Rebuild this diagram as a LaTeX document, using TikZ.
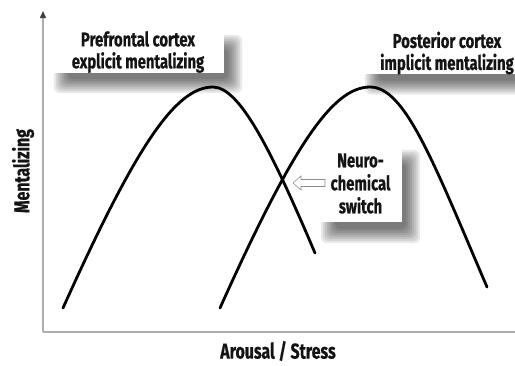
\documentclass[tikz,border=0pt]{standalone}
\usepackage{fontspec}
\setmainfont{Fira Sans}[FakeStretch=0.74, BoldFeatures={FakeBold=0.6}]
\usetikzlibrary{arrows.meta,backgrounds}
\begin{document}
\begin{tikzpicture}[x=1pt,y=-1pt,
  axisline/.style={draw=black!32, line width=1.4pt},
  curve/.style={line width=2.8pt, line cap=round},
  labelbox/.style={fill=white, align=center, inner sep=0pt,
    font=\bfseries\fontsize{20}{22}\selectfont, text=black!92},
  axislabel/.style={font=\bfseries\fontsize{21.5}{22}\selectfont, text=black!92, inner sep=1pt},
  hollowarrow/.style={draw=black!45, fill=white, line width=0.6pt, line join=miter},
  softshadow/.style={fill=black, opacity=0.085},
]
\useasboundingbox (0,0) rectangle (515,365);
\clip (0,0) rectangle (515,365);

% axes
\coordinate (origin) at (43,332);
\coordinate (ytop) at (43,11);
\coordinate (xend) at (516,332);
\draw[axisline] (origin) -- (xend);
\draw[axisline, -{Triangle[length=7pt,width=6pt,color=black!75]}] (origin) -- (ytop);

% explicit (prefrontal) curve
\coordinate (a0) at (63,308);
\coordinate (a1) at (213,87);
\coordinate (a2) at (315,253);
\draw[curve] (a0) .. controls (135,148) and (175,87) .. (a1)
                  .. controls (240,87) and (272,152) .. (a2);

% implicit (posterior) curve
\coordinate (b0) at (220,308);
\coordinate (b1) at (370,87);
\coordinate (b2) at (487,287);
\draw[curve] (b0) .. controls (292,148) and (332,87) .. (b1)
                  .. controls (405,87) and (433,161) .. (b2);

% labels
\node[labelbox, minimum width=172pt, minimum height=40pt] (pfc) at (138,52)
  {Prefrontal cortex\\explicit mentalizing};
\node[labelbox, minimum width=172pt, minimum height=40pt] (pc) at (447,53)
  {Posterior cortex\\implicit mentalizing};
\node[labelbox, minimum width=83pt, minimum height=77pt,
      font=\bfseries\fontsize{20}{23}\selectfont] (switch) at (360.5,183.5)
  {Neuro-\\chemical\\switch};

% soft drop shadows behind the label boxes
\begin{scope}[on background layer]
  \foreach \lbl/\dx/\dy in {pfc/10/12, pc/12/12, switch/10/13} {
    \foreach \r in {-6,-4,...,8} {
      \fill[softshadow, rounded corners=6pt]
        ([shift={(\dx-\r,\dy-\r)}]\lbl.north west)
        rectangle ([shift={(\dx+\r,\dy+\r)}]\lbl.south east);
    }
  }
\end{scope}

% hollow arrow from the switch box to the crossing point
\coordinate (cross) at (285,183);
\draw[hollowarrow] ([xshift=8pt]cross) -- ++(8,-7) -- ++(0,3.5) -- ++(24,0)
  -- ++(0,7) -- ++(-24,0) -- ++(0,3.5) -- cycle;

\node[axislabel, rotate=90] (ylab) at (23,171) {Mentalizing};
\node[axislabel] (xlab) at (278,351) {Arousal / Stress};
\end{tikzpicture}
\end{document}
